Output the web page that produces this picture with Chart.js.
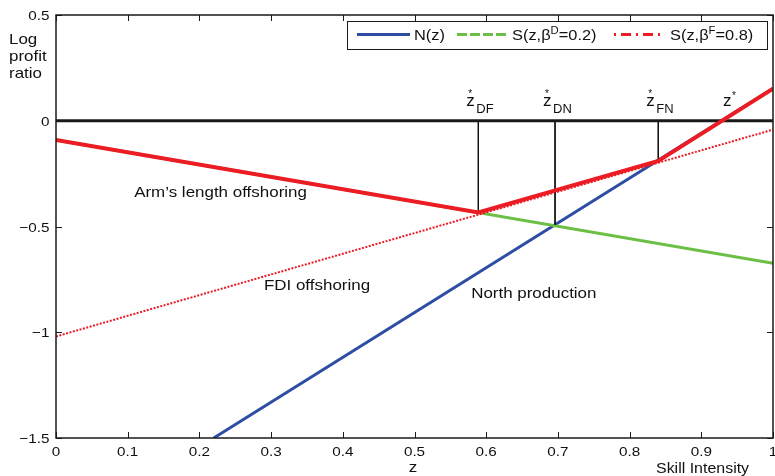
<!DOCTYPE html>
<html>
<head>
<meta charset="utf-8">
<script src="https://cdn.jsdelivr.net/npm/chart.js@4.4.0/dist/chart.umd.min.js"></script>
<style>
  html, body { margin: 0; padding: 0; background: #fff; }
  #wrap { width: 775px; height: 476px; }
</style>
</head>
<body>
<div id="wrap"><canvas id="chart" width="775" height="476"></canvas></div>
<script>
const FONT = '"Liberation Sans", Arial, Helvetica, sans-serif';
const SX = 1.13; // the original figure text is slightly stretched horizontally

// values (z = skill intensity, y = log profit ratio)
const northZ = [0.22, 1];
const northVal = [-1.5, 0.152];
const armsZ = [0, 1];
const armsVal = [-0.091, -0.674];
const fdiZ = [0, 1];
const fdiVal = [-1.02, -0.042];
const envZ = [0, 0.589, 0.84, 1];
const envVal = [-0.091, -0.434, -0.19, 0.152];
const cutZ = [0.589, 0.696, 0.84];
const cutVal = [-0.434, -0.492, -0.19];
const cutNames = ['DF', 'DN', 'FN'];
const zStar = 0.928;
const xTicks = [0, 0.1, 0.2, 0.3, 0.4, 0.5, 0.6, 0.7, 0.8, 0.9, 1];
const yTicks = [0.5, 0, -0.5, -1, -1.5];

const BLUE = '#2d4ea3';
const GREEN = '#6cbf45';
const RED = '#ec1c24';

const pts = (xs, ys) => xs.map((x, i) => ({ x, y: ys[i] }));
const fmt = v => String(v).replace('-', '\u2212');

function txt(ctx, s, x, y, size, align = 'left', sx = SX) {
  ctx.save();
  ctx.font = size + 'px ' + FONT;
  ctx.textBaseline = 'alphabetic';
  ctx.textAlign = 'left';
  const w = ctx.measureText(s).width * sx;
  const x0 = align === 'center' ? x - w / 2 : align === 'right' ? x - w : x;
  ctx.translate(x0, y);
  ctx.scale(sx, 1);
  ctx.fillStyle = '#111';
  ctx.fillText(s, 0, 0);
  ctx.restore();
  return w;
}

const datasets = [
  { label: 'envelope', data: pts(envZ, envVal), borderColor: RED, borderWidth: 4, order: 0 },
  { label: 'zero', data: pts([0, 1], [0, 0]), borderColor: '#1a1a1a', borderWidth: 3, order: 1 },
  { label: 'N(z)', data: pts(northZ, northVal), borderColor: BLUE, borderWidth: 3, order: 5 },
  { label: 'S(z,bD=0.2)', data: pts(armsZ, armsVal), borderColor: GREEN, borderWidth: 3, order: 4 },
  { label: 'S(z,bF=0.8)', data: pts(fdiZ, fdiVal), borderColor: RED, borderWidth: 2, borderDash: [2, 1.5], order: 3 }
];
cutZ.forEach((z, i) => {
  datasets.push({ label: 'cut' + cutNames[i], data: pts([z, z], [0, cutVal[i]]), borderColor: '#111', borderWidth: 1, order: 2 });
});
datasets.forEach(d => { d.showLine = true; d.pointRadius = 0; d.fill = false; });

const decorations = {
  id: 'decorations',
  afterDraw(chart) {
    const ctx = chart.ctx;
    const a = chart.chartArea;
    const xs = chart.scales.x;
    const ys = chart.scales.y;

    // frame
    ctx.save();
    ctx.strokeStyle = '#1a1a1a';
    ctx.lineWidth = 1.5;
    ctx.strokeRect(a.left, a.top, a.right - a.left, a.bottom - a.top);

    // inward ticks on all four sides
    ctx.lineWidth = 1;
    ctx.beginPath();
    xTicks.forEach(v => {
      const px = Math.round(xs.getPixelForValue(v)) + 0.5;
      ctx.moveTo(px, a.bottom); ctx.lineTo(px, a.bottom - 6);
      ctx.moveTo(px, a.top); ctx.lineTo(px, a.top + 6);
    });
    yTicks.forEach(v => {
      const py = Math.round(ys.getPixelForValue(v)) + 0.5;
      ctx.moveTo(a.left, py); ctx.lineTo(a.left + 6, py);
      ctx.moveTo(a.right, py); ctx.lineTo(a.right - 6, py);
    });
    ctx.stroke();
    ctx.restore();

    // tick labels
    xTicks.forEach(v => txt(ctx, fmt(v), xs.getPixelForValue(v), a.bottom + 18, 13.5, 'center'));
    yTicks.forEach(v => txt(ctx, fmt(v), a.left - 6.5, ys.getPixelForValue(v) + 5, 13.5, 'right'));

    // axis titles
    txt(ctx, 'z', 413, 472, 15, 'center');
    txt(ctx, 'Skill Intensity', 656, 473, 14.5, 'left', 1.1);
    txt(ctx, 'Log', 9, 44, 15);
    txt(ctx, 'profit', 9, 61, 15);
    txt(ctx, 'ratio', 9, 78, 15);

    // region labels
    txt(ctx, 'Arm\u2019s length offshoring', xs.getPixelForValue(0.109), ys.getPixelForValue(-0.359), 15);
    txt(ctx, 'FDI offshoring', xs.getPixelForValue(0.29), ys.getPixelForValue(-0.80), 15);
    txt(ctx, 'North production', xs.getPixelForValue(0.579), ys.getPixelForValue(-0.839), 15);

    // cutoff labels
    cutZ.forEach((z, i) => {
      const zl = xs.getPixelForValue(z) - 12;
      txt(ctx, 'z', zl, 106, 17, 'left', 1);
      txt(ctx, cutNames[i], zl + 10, 113, 13, 'left', 1);
      txt(ctx, '*', zl + 2, 97, 10, 'left', 1);
    });
    const zs = xs.getPixelForValue(zStar) + 1.5;
    txt(ctx, 'z', zs, 106, 17, 'left', 1);
    txt(ctx, '*', zs + 9, 99, 10, 'left', 1);

    // legend
    ctx.save();
    ctx.fillStyle = '#fff';
    ctx.fillRect(347, 21, 421, 28);
    ctx.strokeStyle = '#1a1a1a';
    ctx.lineWidth = 1;
    ctx.strokeRect(347.5, 21.5, 420, 28);
    const ly = 34.5;
    ctx.lineWidth = 3;
    ctx.strokeStyle = BLUE;
    ctx.beginPath(); ctx.moveTo(357, ly); ctx.lineTo(410, ly); ctx.stroke();
    ctx.strokeStyle = GREEN;
    ctx.setLineDash([10, 3]);
    ctx.beginPath(); ctx.moveTo(457, ly); ctx.lineTo(508, ly); ctx.stroke();
    ctx.strokeStyle = RED;
    ctx.setLineDash([2, 5, 10, 5]);
    ctx.beginPath(); ctx.moveTo(614, ly); ctx.lineTo(665, ly); ctx.stroke();
    ctx.restore();

    const base = 40;
    txt(ctx, 'N(z)', 414, base, 14.5);
    let x = 512;
    x += txt(ctx, 'S(z,\u03b2', x, base, 14.5);
    x += txt(ctx, 'D', x, base - 6, 10);
    txt(ctx, '=0.2)', x, base, 14.5);
    x = 670;
    x += txt(ctx, 'S(z,\u03b2', x, base, 14.5);
    x += txt(ctx, 'F', x, base - 6, 10);
    txt(ctx, '=0.8)', x, base, 14.5);
  }
};

new Chart(document.getElementById('chart'), {
  type: 'scatter',
  data: { datasets },
  options: {
    responsive: false,
    animation: false,
    devicePixelRatio: 1,
    layout: { padding: { top: 15, right: 2, left: 0, bottom: 0 } },
    plugins: { legend: { display: false }, tooltip: { enabled: false } },
    elements: { line: { tension: 0 } },
    scales: {
      x: {
        type: 'linear', min: 0, max: 1,
        grid: { display: false }, border: { display: false },
        ticks: { display: false },
        afterBuildTicks: s => { s.ticks = xTicks.map(v => ({ value: v })); },
        afterFit: s => { s.height = 38; s.paddingLeft = 0; s.paddingRight = 0; }
      },
      y: {
        type: 'linear', min: -1.5, max: 0.5,
        grid: { display: false }, border: { display: false },
        ticks: { display: false },
        afterBuildTicks: s => { s.ticks = yTicks.map(v => ({ value: v })); },
        afterFit: s => { s.width = 56; s.paddingTop = 0; s.paddingBottom = 0; }
      }
    }
  },
  plugins: [decorations]
});
</script>
</body>
</html>
